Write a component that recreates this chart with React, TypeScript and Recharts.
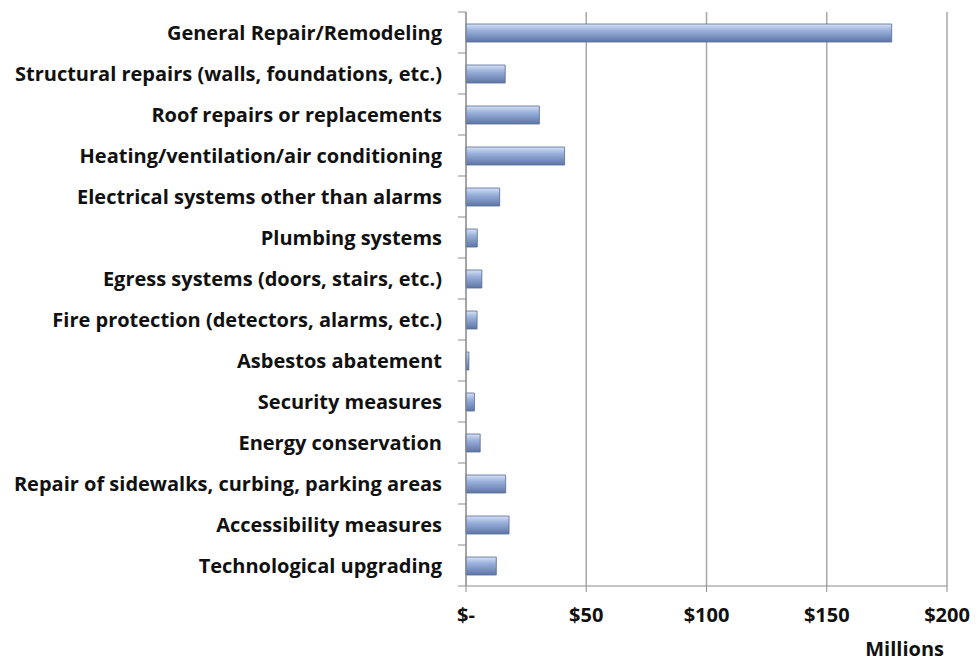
import React from 'react'
import { BarChart, Bar, XAxis, YAxis, CartesianGrid, Label } from 'recharts'

const categories = [
  'General Repair/Remodeling',
  'Structural repairs (walls, foundations, etc.)',
  'Roof repairs or replacements',
  'Heating/ventilation/air conditioning',
  'Electrical systems other than alarms',
  'Plumbing systems',
  'Egress systems (doors, stairs, etc.)',
  'Fire protection (detectors, alarms, etc.)',
  'Asbestos abatement',
  'Security measures',
  'Energy conservation',
  'Repair of sidewalks, curbing, parking areas',
  'Accessibility measures',
  'Technological upgrading',
]

// spending in millions of dollars
const spending = [177, 16.3, 30.5, 41, 14, 4.7, 6.6, 4.6, 1.2, 3.5, 5.9, 16.5, 17.9, 12.6]

const xTicks = [0, 50, 100, 150, 200]

const data = categories.map((name, i) => ({ name, value: spending[i] }))

const W = 977
const H = 662
const X_AXIS_H = 76
const M = { top: 12, right: 30, bottom: 0, left: 0 }
const Y_AXIS_W = 466
const band = (H - M.top - X_AXIS_H) / categories.length

const FONT = '"Open Sans", Lato, sans-serif'
const FS = 20
const AXIS = '#8c8c8c'

const formatMoney = (v: number) => (v === 0 ? '$-' : `$${v}`)

// category labels with tick marks on the band edges (Excel style)
// recharts hands us x = axis line - 8 (default tickSize + tickMargin)
function CategoryTick(props: any) {
  const { x, y, payload, index } = props
  const last = index === categories.length - 1
  return (
    <g>
      <line x1={x} x2={x + 8} y1={y - band / 2} y2={y - band / 2} stroke={AXIS} />
      {last && <line x1={x} x2={x + 8} y1={y + band / 2} y2={y + band / 2} stroke={AXIS} />}
      <text
        x={x - 16}
        y={y}
        dy="0.35em"
        textAnchor="end"
        fontFamily={FONT}
        fontWeight="bold"
        fontSize={FS}
        fill="#111"
      >
        {payload.value}
      </text>
    </g>
  )
}

export default function App() {
  return (
    <div style={{ position: 'absolute', left: 0, top: 0, background: '#fff' }}>
      <BarChart width={W} height={H} data={data} layout="vertical" margin={M}>
        <defs>
          <linearGradient id="barFill" x1="0" y1="0" x2="0" y2="1">
            <stop offset="0%" stopColor="#d6e2f7" />
            <stop offset="35%" stopColor="#9cb2dc" />
            <stop offset="100%" stopColor="#5d75a8" />
          </linearGradient>
        </defs>
        <CartesianGrid horizontal={false} stroke="#a9a9a9" strokeWidth={1.5} />
        <XAxis
          type="number"
          domain={[0, 200]}
          ticks={xTicks}
          tickFormatter={formatMoney}
          height={X_AXIS_H}
          stroke={AXIS}
          tickSize={6}
          tickMargin={16}
          tick={{ fontFamily: FONT, fontWeight: 'bold', fontSize: FS, fill: '#111' }}
        >
          <Label
            value="Millions"
            position="insideBottomRight"
            offset={6}
            dx={3}
            style={{ fontFamily: FONT, fontWeight: 'bold', fontSize: FS, fill: '#111' }}
          />
        </XAxis>
        <YAxis
          type="category"
          dataKey="name"
          width={Y_AXIS_W}
          stroke={AXIS}
          tickLine={false}
          interval={0}
          tick={<CategoryTick />}
        />
        <Bar
          dataKey="value"
          barSize={18}
          fill="url(#barFill)"
          stroke="#56698f"
          strokeWidth={0.8}
          isAnimationActive={false}
        />
      </BarChart>
    </div>
  )
}
